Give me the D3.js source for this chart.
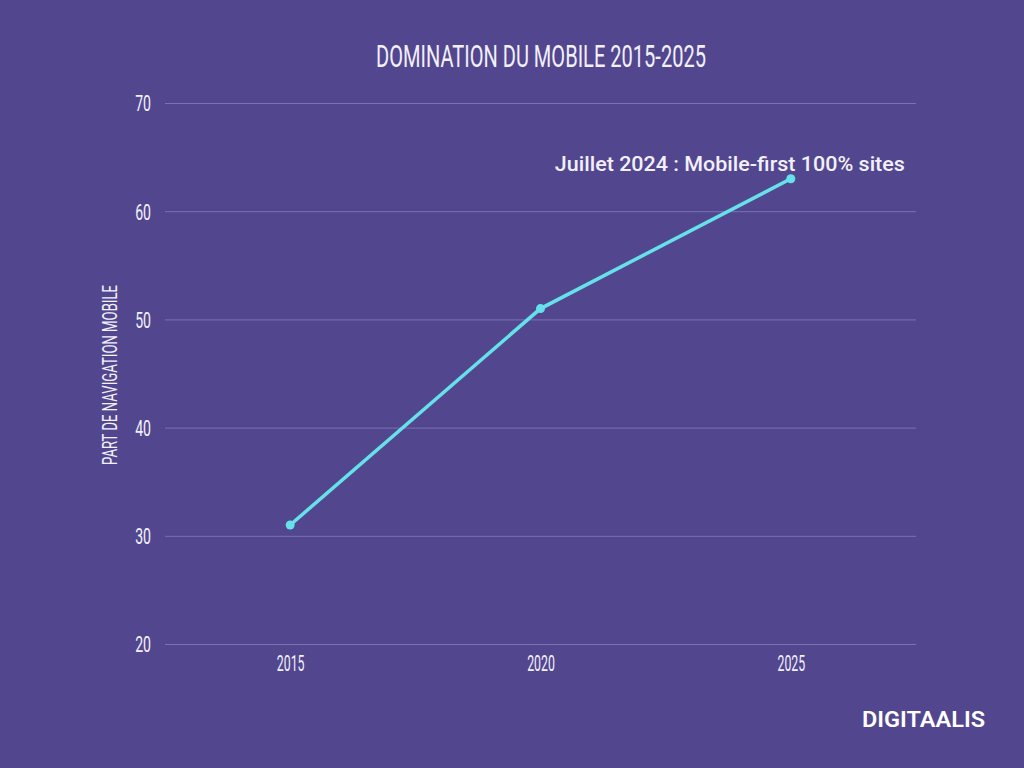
<!DOCTYPE html>
<html>
<head>
<meta charset="utf-8">
<script src="https://cdn.jsdelivr.net/npm/d3@7"></script>
<style>
  body { margin: 0; background: #52478f; }
  svg { display: block; }
</style>
</head>
<body>
<div id="chart"></div>
<script>
var width = 1024;
var height = 768;

// data
var years = ['2015', '2020', '2025'];
var mobileShare = [31, 51, 63];
var yTicks = [20, 30, 40, 50, 60, 70];

var titleText = 'DOMINATION DU MOBILE 2015-2025';
var yLabel = 'PART DE NAVIGATION MOBILE';
var noteText = 'Juillet 2024 : Mobile-first 100% sites';
var logoText = 'DIGITAALIS';

var bg = '#52478f';
var lineColor = '#67e1e9';
var gridColor = '#7b71b3';
var textColor = '#f2f0fa';

var data = years.map(function(y, i) { return { year: y, value: mobileShare[i] }; });

var svg = d3.select('#chart').append('svg')
    .attr('width', width)
    .attr('height', height);

svg.append('rect')
    .attr('width', width)
    .attr('height', height)
    .attr('fill', bg);

var xScale = d3.scalePoint()
    .domain(years)
    .range([165, 916])
    .padding(0.5);

var yScale = d3.scaleLinear()
    .domain([20, 70])
    .range([644, 103]);

// squeeze a text to look like a condensed font
function squeeze(sel, factor) {
    sel.each(function() {
        var w = this.getComputedTextLength();
        d3.select(this)
            .attr('textLength', w * factor)
            .attr('lengthAdjust', 'spacingAndGlyphs');
    });
}

// grid lines
svg.append('g').selectAll('line')
    .data(yTicks)
    .enter().append('line')
    .attr('x1', 165)
    .attr('x2', 916)
    .attr('y1', function(d) { return yScale(d) + 0.5; })
    .attr('y2', function(d) { return yScale(d) + 0.5; })
    .attr('stroke', gridColor)
    .attr('stroke-width', 1);

// y axis
var yAxis = svg.append('g')
    .attr('transform', 'translate(151,0)')
    .call(d3.axisLeft(yScale).tickValues(yTicks).tickSize(0).tickPadding(0));
yAxis.select('.domain').remove();
yAxis.selectAll('text')
    .attr('fill', textColor)
    .style('font-family', 'Roboto')
    .style('font-size', '22px')
    .attr('dy', '0.36em')
    .call(squeeze, 0.64);

// x axis
var xAxis = svg.append('g')
    .attr('transform', 'translate(0,655)')
    .call(d3.axisBottom(xScale).tickSize(0).tickPadding(0));
xAxis.select('.domain').remove();
xAxis.selectAll('text')
    .attr('fill', textColor)
    .style('font-family', 'Roboto')
    .style('font-size', '22px')
    .attr('dy', '0.71em')
    .call(squeeze, 0.56);

// y label
svg.append('text')
    .attr('transform', 'translate(117,375) rotate(-90)')
    .attr('text-anchor', 'middle')
    .attr('fill', textColor)
    .style('font-family', 'Roboto')
    .style('font-size', '21px')
    .attr('textLength', 180)
    .attr('lengthAdjust', 'spacingAndGlyphs')
    .text(yLabel);

// title
svg.append('text')
    .attr('x', 541)
    .attr('y', 67)
    .attr('text-anchor', 'middle')
    .attr('fill', textColor)
    .style('font-family', 'Roboto')
    .style('font-size', '31px')
    .attr('textLength', 330)
    .attr('lengthAdjust', 'spacingAndGlyphs')
    .text(titleText);

// line
var line = d3.line()
    .x(function(d) { return xScale(d.year); })
    .y(function(d) { return yScale(d.value); });

svg.append('path')
    .datum(data)
    .attr('d', line)
    .attr('fill', 'none')
    .attr('stroke', lineColor)
    .attr('stroke-width', 3.5);

svg.append('g').selectAll('circle')
    .data(data)
    .enter().append('circle')
    .attr('cx', function(d) { return xScale(d.year); })
    .attr('cy', function(d) { return yScale(d.value); })
    .attr('r', 4.5)
    .attr('fill', lineColor);

// annotation on the last point
var last = data[data.length - 1];
svg.append('text')
    .attr('x', xScale(last.year) - 61)
    .attr('y', yScale(last.value) - 8)
    .attr('text-anchor', 'middle')
    .attr('fill', textColor)
    .style('font-family', 'Roboto')
    .style('font-weight', 500)
    .style('font-size', '21px')
    .attr('textLength', 350)
    .attr('lengthAdjust', 'spacingAndGlyphs')
    .text(noteText);

// logo
svg.append('text')
    .attr('x', 862)
    .attr('y', 727)
    .attr('fill', '#ffffff')
    .style('font-family', 'Roboto')
    .style('font-weight', 600)
    .style('font-size', '22px')
    .attr('textLength', 123)
    .attr('lengthAdjust', 'spacingAndGlyphs')
    .text(logoText);
</script>
</body>
</html>
